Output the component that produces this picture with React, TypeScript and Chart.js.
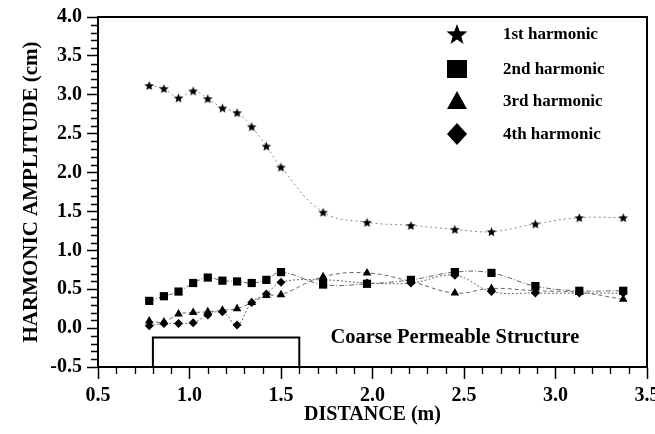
import React, { useEffect, useRef } from "react";
import { Chart, registerables } from "chart.js";

Chart.register(...registerables);

const DISTANCE = [0.78, 0.86, 0.94, 1.02, 1.1, 1.18, 1.26, 1.34, 1.42, 1.5, 1.73, 1.97, 2.21, 2.45, 2.65, 2.89, 3.13, 3.37];
const H1 = [3.12, 3.08, 2.96, 3.05, 2.95, 2.83, 2.77, 2.59, 2.34, 2.07, 1.49, 1.36, 1.32, 1.27, 1.24, 1.34, 1.42, 1.42];
const H2 = [0.35, 0.41, 0.47, 0.58, 0.65, 0.61, 0.6, 0.58, 0.62, 0.72, 0.56, 0.57, 0.62, 0.72, 0.71, 0.54, 0.48, 0.48];
const H3 = [0.09, 0.08, 0.18, 0.2, 0.21, 0.23, 0.25, 0.33, 0.42, 0.43, 0.66, 0.71, 0.6, 0.45, 0.51, 0.48, 0.46, 0.37];
const H4 = [0.03, 0.06, 0.06, 0.07, 0.17, 0.21, 0.04, 0.33, 0.44, 0.59, 0.62, 0.58, 0.58, 0.68, 0.47, 0.45, 0.45, 0.45];
const SERIES_LABELS = ["1st harmonic", "2nd harmonic", "3rd harmonic", "4th harmonic"];
const STRUCTURE_X = [0.8, 1.6];
const STRUCTURE_TOP = -0.12;
const STRUCTURE_LABEL = "Coarse Permeable Structure";
const STRUCTURE_LABEL_X = 1.77;
const X_TITLE = "DISTANCE (m)";
const Y_TITLE = "HARMONIC AMPLITUDE (cm)";
const X_RANGE = [0.5, 3.5];
const Y_RANGE = [-0.5, 4.0];

const FONT = "'Liberation Serif', 'Times New Roman', serif";

function starPath(ctx: CanvasRenderingContext2D, cx: number, cy: number, R: number, r: number) {
  ctx.beginPath();
  for (let i = 0; i < 10; i++) {
    const rad = i % 2 === 0 ? R : r;
    const a = -Math.PI / 2 + (i * Math.PI) / 5;
    const px = cx + rad * Math.cos(a);
    const py = cy + rad * Math.sin(a);
    if (i === 0) ctx.moveTo(px, py);
    else ctx.lineTo(px, py);
  }
  ctx.closePath();
}

function makeStar(size: number) {
  const c = document.createElement("canvas");
  c.width = size;
  c.height = size;
  const ctx = c.getContext("2d")!;
  ctx.fillStyle = "#000";
  starPath(ctx, size / 2, size / 2 + 0.5, size / 2 - 0.5, (size / 2 - 0.5) * 0.45);
  ctx.fill();
  return c;
}

const pts = (ys: number[]) => DISTANCE.map((x, i) => ({ x, y: ys[i] }));

const minorTicks = {
  id: "minorTicks",
  afterDraw(chart: any) {
    const { ctx } = chart;
    const xs = chart.scales.x;
    const ys = chart.scales.y;
    ctx.save();
    ctx.strokeStyle = "#000";
    ctx.lineWidth = 1.3;
    ctx.beginPath();
    for (let i = Math.round(X_RANGE[0] * 10); i <= Math.round(X_RANGE[1] * 10); i++) {
      if (i % 5 === 0) continue;
      const px = Math.round(xs.getPixelForValue(i / 10)) + 0.5;
      ctx.moveTo(px, xs.top);
      ctx.lineTo(px, xs.top + 7);
    }
    for (let i = Math.round(Y_RANGE[0] * 10); i <= Math.round(Y_RANGE[1] * 10); i++) {
      if (i % 5 === 0) continue;
      const py = Math.round(ys.getPixelForValue(i / 10)) + 0.5;
      ctx.moveTo(ys.right, py);
      ctx.lineTo(ys.right - 7, py);
    }
    ctx.stroke();
    // frame top & right
    const a = chart.chartArea;
    ctx.lineWidth = 2;
    ctx.beginPath();
    ctx.moveTo(a.left, a.top);
    ctx.lineTo(a.right, a.top);
    ctx.lineTo(a.right, a.bottom);
    ctx.stroke();
    // structure label
    ctx.fillStyle = "#000";
    ctx.font = `bold 20.5px ${FONT}`;
    ctx.textAlign = "left";
    ctx.textBaseline = "middle";
    ctx.fillText(STRUCTURE_LABEL, xs.getPixelForValue(STRUCTURE_LABEL_X), ys.getPixelForValue(STRUCTURE_TOP));
    // legend
    const rows = [34, 69, 101, 134];
    const mx = 457;
    const tx = 503;
    ctx.font = `bold 17px ${FONT}`;
    rows.forEach((ry, i) => {
      ctx.fillStyle = "#000";
      if (i === 0) {
        starPath(ctx, mx, ry + 1, 11, 4.6);
        ctx.fill();
      } else if (i === 1) {
        ctx.fillRect(mx - 10, ry - 9, 20, 18);
      } else if (i === 2) {
        ctx.beginPath();
        ctx.moveTo(mx, ry - 10);
        ctx.lineTo(mx + 10, ry + 8);
        ctx.lineTo(mx - 10, ry + 8);
        ctx.closePath();
        ctx.fill();
      } else {
        ctx.beginPath();
        ctx.moveTo(mx, ry - 11);
        ctx.lineTo(mx + 10, ry);
        ctx.lineTo(mx, ry + 11);
        ctx.lineTo(mx - 10, ry);
        ctx.closePath();
        ctx.fill();
      }
      ctx.fillText(SERIES_LABELS[i], tx, ry + 1);
    });
    ctx.restore();
  },
};

export default function App() {
  const ref = useRef<HTMLCanvasElement | null>(null);
  useEffect(() => {
    if (!ref.current) return;
    Chart.defaults.font.family = FONT;
    Chart.defaults.color = "#000";
    const star = makeStar(11);
    const lineCommon = {
      borderColor: "#666",
      borderWidth: 1,
      backgroundColor: "#000",
      pointBorderColor: "#000",
      pointBorderWidth: 0,
      tension: 0.4,
      fill: false,
    };
    const chart = new Chart(ref.current, {
      type: "line",
      data: {
        datasets: [
          { ...lineCommon, label: SERIES_LABELS[0], data: pts(H1), pointStyle: star as any, pointRadius: 5, borderDash: [2, 3], borderColor: "#888" },
          { ...lineCommon, label: SERIES_LABELS[1], data: pts(H2), pointStyle: "rect", pointRadius: 5.8, borderDash: [5, 2, 1, 2] },
          { ...lineCommon, label: SERIES_LABELS[2], data: pts(H3), pointStyle: "triangle", pointRadius: 5, borderDash: [4, 3] },
          { ...lineCommon, label: SERIES_LABELS[3], data: pts(H4), pointStyle: "rectRot", pointRadius: 4.5, borderDash: [2, 2] },
          {
            label: "structure",
            data: [
              { x: STRUCTURE_X[0], y: Y_RANGE[0] },
              { x: STRUCTURE_X[0], y: STRUCTURE_TOP },
              { x: STRUCTURE_X[1], y: STRUCTURE_TOP },
              { x: STRUCTURE_X[1], y: Y_RANGE[0] },
            ],
            borderColor: "#000",
            borderWidth: 2,
            pointRadius: 0,
            tension: 0,
            fill: false,
          },
        ],
      },
      options: {
        animation: false,
        responsive: false,
        events: [],
        layout: { padding: { left: 0, top: 12, right: 28, bottom: 0 } },
        plugins: { legend: { display: false }, tooltip: { enabled: false } },
        scales: {
          x: {
            type: "linear",
            min: X_RANGE[0],
            max: X_RANGE[1],
            afterFit: (s: any) => {
              s.height = 67;
            },
            ticks: {
              stepSize: 0.5,
              padding: 5,
              maxRotation: 0,
              font: { size: 20, weight: "bold" },
              callback: (v: any) => Number(v).toFixed(1),
            },
            grid: { drawOnChartArea: false, drawTicks: true, tickLength: 12, tickWidth: 1.5, tickColor: "#000" },
            border: { display: true, color: "#000", width: 2 },
            title: { display: true, text: X_TITLE, font: { size: 20, weight: "bold" }, padding: { top: 0, bottom: 7 } },
          },
          y: {
            type: "linear",
            min: Y_RANGE[0],
            max: Y_RANGE[1],
            afterFit: (s: any) => {
              s.width = 98;
            },
            ticks: {
              stepSize: 0.5,
              padding: 5,
              font: { size: 20, weight: "bold" },
              callback: (v: any) => Number(v).toFixed(1),
            },
            grid: { drawOnChartArea: false, drawTicks: true, tickLength: 11, tickWidth: 1.5, tickColor: "#000" },
            border: { display: true, color: "#000", width: 2 },
            title: { display: true, text: Y_TITLE, font: { size: 21, weight: "bold" }, padding: { top: 19, bottom: 0 } },
          },
        },
      },
      plugins: [minorTicks],
    });
    return () => chart.destroy();
  }, []);
  return (
    <div style={{ position: "fixed", left: 0, top: 0, width: 655, height: 434, overflow: "hidden", background: "#fff" }}>
      <canvas ref={ref} width={675} height={434} style={{ display: "block", width: 675, height: 434 }} />
    </div>
  );
}
